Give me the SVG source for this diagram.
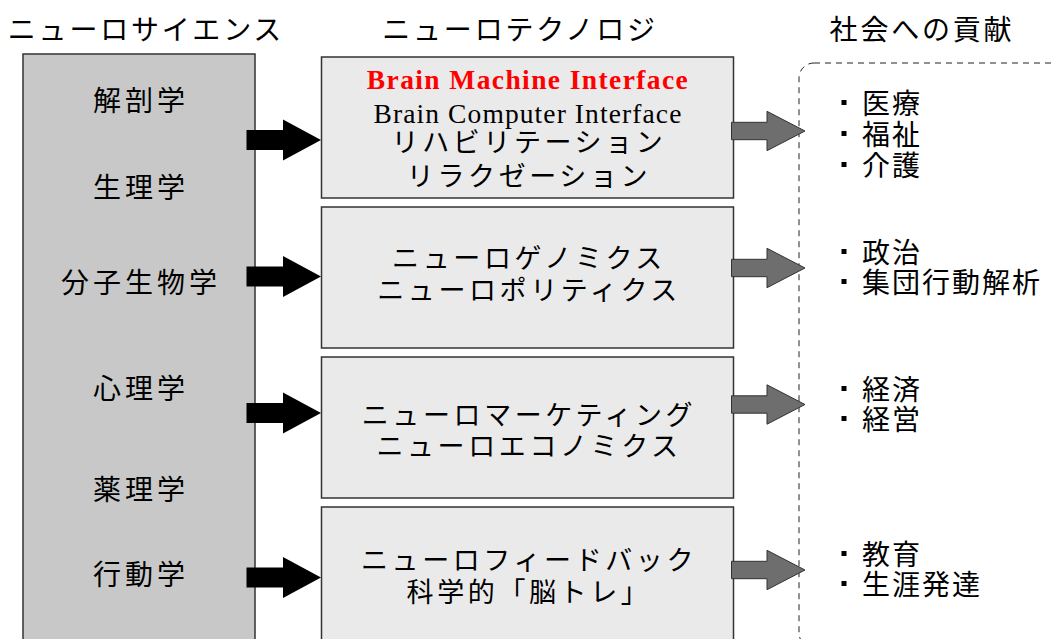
<svg xmlns="http://www.w3.org/2000/svg" xmlns:xlink="http://www.w3.org/1999/xlink" width="1053" height="639" viewBox="0 0 1053 639">
<style>
.jp{font-family:"Noto Sans CJK JP","Noto Sans",sans-serif;font-size:28px;fill:#000;}
.hd{letter-spacing:2.8px;text-anchor:middle;}
.lt{letter-spacing:4px;text-anchor:middle;}
.mt{font-size:27px;letter-spacing:3.6px;text-anchor:middle;}
.rt{letter-spacing:2px;}
.en{font-family:"Liberation Serif","Times New Roman",serif;font-size:27.5px;letter-spacing:1.1px;text-anchor:middle;fill:#000;}
.red{fill:#ff0000;font-weight:bold;letter-spacing:1.4px;}
.box{fill:#eaeaea;stroke:#333;stroke-width:1.5;}
.sci{fill:#c8c8c8;stroke:#333;stroke-width:1.5;}
.blk{fill:#000;}
.gry{fill:#6e6e6e;stroke:#333;stroke-width:1;}
.bul{fill:#000;}
</style>
<defs>
<path id="ab" d="M246.5,-10 H283 V-20.5 L321,0 L283,20.5 V10 H246.5 Z"/>
<path id="ag" d="M731.5,-8.7 H767 V-19.7 L805,0 L767,19.7 V8.7 H731.5 Z"/>
</defs>
<rect width="1053" height="639" fill="#fff"/>

<g id="headers">
<text class="jp hd" x="146" y="40">ニューロサイエンス</text>
<text class="jp hd" x="520" y="40">ニューロテクノロジ</text>
<text class="jp hd" x="922" y="40">社会への貢献</text>
</g>

<g id="contrib">
<rect x="799" y="63" width="300" height="585" rx="15" ry="15" fill="none" stroke="#222" stroke-width="1" stroke-dasharray="6,5"/>
</g>

<g id="neuroscience">
<rect class="sci" x="23" y="54" width="232" height="600"/>
<text class="jp lt" x="141" y="111">解剖学</text>
<text class="jp lt" x="141" y="198">生理学</text>
<text class="jp lt" x="141" y="293">分子生物学</text>
<text class="jp lt" x="141" y="399">心理学</text>
<text class="jp lt" x="141" y="500">薬理学</text>
<text class="jp lt" x="141" y="585">行動学</text>
</g>

<g id="tech1">
<rect class="box" x="321.5" y="57" width="412" height="141"/>
<text class="en red" x="528" y="89">Brain Machine Interface</text>
<text class="en" x="528" y="123">Brain Computer Interface</text>
<text class="jp mt" x="529" y="152">リハビリテーション</text>
<text class="jp mt" x="529" y="186">リラクゼーション</text>
</g>
<g id="tech2">
<rect class="box" x="321.5" y="207" width="412" height="141"/>
<text class="jp mt" x="529" y="268">ニューロゲノミクス</text>
<text class="jp mt" x="529" y="300">ニューロポリティクス</text>
</g>
<g id="tech3">
<rect class="box" x="321.5" y="357" width="412" height="141"/>
<text class="jp mt" x="529" y="425">ニューロマーケティング</text>
<text class="jp mt" x="529" y="456">ニューロエコノミクス</text>
</g>
<g id="tech4">
<rect class="box" x="321.5" y="507" width="412" height="141"/>
<text class="jp mt" x="529" y="570">ニューロフィードバック</text>
<text class="jp mt" x="529" y="602">科学的「脳トレ」</text>
</g>

<g id="society1">
<rect class="bul" x="841.5" y="100" width="5" height="5"/>
<text class="jp rt" x="862" y="114">医療</text>
<rect class="bul" x="841.5" y="131" width="5" height="5"/>
<text class="jp rt" x="862" y="145">福祉</text>
<rect class="bul" x="841.5" y="162" width="5" height="5"/>
<text class="jp rt" x="862" y="176">介護</text>
</g>
<g id="society2">
<rect class="bul" x="841.5" y="249" width="5" height="5"/>
<text class="jp rt" x="862" y="263">政治</text>
<rect class="bul" x="841.5" y="279" width="5" height="5"/>
<text class="jp rt" x="862" y="293">集団行動解析</text>
</g>
<g id="society3">
<rect class="bul" x="841.5" y="386" width="5" height="5"/>
<text class="jp rt" x="862" y="400">経済</text>
<rect class="bul" x="841.5" y="416" width="5" height="5"/>
<text class="jp rt" x="862" y="430">経営</text>
</g>
<g id="society4">
<rect class="bul" x="841.5" y="551" width="5" height="5"/>
<text class="jp rt" x="862" y="565">教育</text>
<rect class="bul" x="841.5" y="581" width="5" height="5"/>
<text class="jp rt" x="862" y="595">生涯発達</text>
</g>

<g id="connectors">
<use xlink:href="#ab" class="blk" transform="translate(0,140)"/>
<use xlink:href="#ab" class="blk" transform="translate(0,276.5)"/>
<use xlink:href="#ab" class="blk" transform="translate(0,413)"/>
<use xlink:href="#ab" class="blk" transform="translate(0,577.5)"/>
<use xlink:href="#ag" class="gry" transform="translate(0,131)"/>
<use xlink:href="#ag" class="gry" transform="translate(0,268)"/>
<use xlink:href="#ag" class="gry" transform="translate(0,404.5)"/>
<use xlink:href="#ag" class="gry" transform="translate(0,570)"/>
</g>
</svg>
